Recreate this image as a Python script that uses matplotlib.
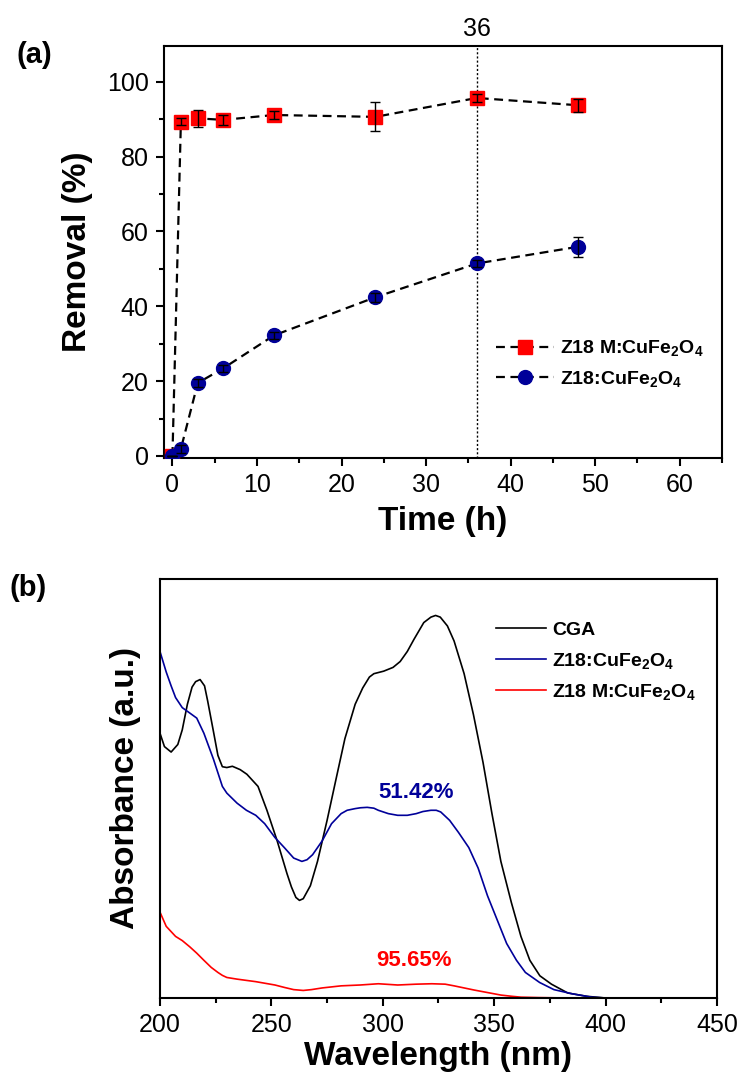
import matplotlib.pyplot as plt
from matplotlib.ticker import MultipleLocator
import matplotlib.transforms as mtransforms
import numpy as np

plt.rcParams['font.family'] = ['Liberation Sans', 'DejaVu Sans']
plt.rcParams['mathtext.default'] = 'regular'

# (a) removal vs time
time_h = [0, 1, 3, 6, 12, 24, 36, 48]
removal_m = [0.0, 89.3, 90.2, 89.8, 91.1, 90.6, 95.65, 93.7]
err_m = [0.0, 1.0, 2.2, 1.3, 1.0, 3.9, 1.0, 1.8]
removal_z = [0.0, 1.9, 19.5, 23.4, 32.2, 42.4, 51.42, 55.9]
err_z = [0.0, 1.0, 1.0, 1.0, 1.0, 1.2, 1.0, 2.7]

# (b) UV-vis spectra
wl_cga = [200, 202, 205, 208, 210, 212.3, 214.4, 216, 218, 220, 221.4, 224, 226, 228, 230,
          232.5, 236, 239, 244, 248, 252.6, 257, 259, 261, 262.6, 264.3, 267.5, 270.7, 275,
          279, 283, 287.6, 291, 294, 296, 300.4, 304.6, 307.8, 311, 314, 318.4, 321.6,
          323.7, 325.8, 329, 332, 336.5, 340.7, 345, 349, 353, 357.7, 362, 366, 370.5,
          375.7, 383, 391.6, 400]
abs_cga = [0.632, 0.600, 0.587, 0.605, 0.640, 0.701, 0.742, 0.755, 0.760, 0.745, 0.709,
           0.636, 0.579, 0.552, 0.550, 0.553, 0.545, 0.534, 0.505, 0.448, 0.375, 0.297,
           0.265, 0.240, 0.233, 0.237, 0.268, 0.326, 0.424, 0.522, 0.619, 0.701, 0.740,
           0.766, 0.774, 0.780, 0.789, 0.803, 0.827, 0.856, 0.896, 0.909, 0.913, 0.909,
           0.888, 0.852, 0.774, 0.676, 0.562, 0.440, 0.326, 0.228, 0.147, 0.090, 0.053,
           0.033, 0.012, 0.004, 0.0]
wl_z = [200, 202.8, 205, 207, 210, 213.4, 216.5, 219.7, 224, 228, 230, 234.6, 238.8, 243,
        247, 251.6, 255.8, 260, 263.7, 266, 268.5, 272.8, 277, 281.3, 284, 287.6, 290, 293,
        296, 298, 302.5, 306.7, 311, 315, 318, 321.6, 324, 326, 330, 334, 338.6, 342.8,
        347, 351.3, 355.6, 360, 364, 370.4, 376.8, 385, 393.7, 400]
abs_z = [0.827, 0.778, 0.745, 0.717, 0.693, 0.680, 0.668, 0.632, 0.570, 0.505, 0.489, 0.465,
         0.448, 0.436, 0.416, 0.383, 0.359, 0.334, 0.326, 0.330, 0.342, 0.375, 0.416, 0.440,
         0.448, 0.452, 0.454, 0.455, 0.453, 0.448, 0.440, 0.436, 0.436, 0.440, 0.445,
         0.448, 0.448, 0.444, 0.424, 0.395, 0.359, 0.310, 0.244, 0.187, 0.130, 0.090,
         0.061, 0.037, 0.020, 0.010, 0.002, 0.0]
wl_m = [200, 202.8, 207, 210, 213.4, 216.5, 219.7, 223, 226, 228, 230, 234.6, 243, 251.6,
        256, 260, 264.3, 268, 272.8, 281.3, 289.8, 298, 306.7, 315, 322, 328, 332, 336.5,
        341, 345, 349, 353, 358, 362, 370, 383, 400]
abs_m = [0.205, 0.171, 0.147, 0.137, 0.122, 0.107, 0.090, 0.073, 0.061, 0.054, 0.049, 0.045,
         0.039, 0.031, 0.025, 0.020, 0.018, 0.020, 0.024, 0.029, 0.031, 0.034, 0.031, 0.033,
         0.034, 0.033, 0.029, 0.024, 0.019, 0.015, 0.011, 0.007, 0.004, 0.002, 0.001, 0.0, 0.0]

navy = '#000099'
red = '#ff0000'
lab_font = dict(fontsize=24, fontweight='bold')


def style_axes(ax):
    for s in ax.spines.values():
        s.set_linewidth(1.5)
    ax.tick_params(which='major', direction='out', length=6, width=1.5, labelsize=18, pad=5)
    ax.tick_params(which='minor', direction='out', length=3.5, width=1.5)
    ax.tick_params(top=False, right=False)


fig = plt.figure(figsize=(7.42, 10.73), dpi=100)

# ---- panel (a)
ax1 = fig.add_axes([0.221, 0.573, 0.752, 0.384])
style_axes(ax1)
ax1.errorbar(time_h, removal_m, yerr=err_m, fmt='none', ecolor='k', elinewidth=1,
             capsize=3.5, capthick=1, zorder=5)
ax1.errorbar(time_h, removal_z, yerr=err_z, fmt='none', ecolor='k', elinewidth=1,
             capsize=3.5, capthick=1, zorder=5)
ax1.plot(time_h, removal_m, ls='--', dashes=(4, 2.5), lw=1.6, color='k', marker='s', ms=10,
         mfc=red, mec=red, label='Z18 M:CuFe$_2$O$_4$', zorder=3)
ax1.plot(time_h, removal_z, ls='--', dashes=(4, 2.5), lw=1.6, color='k', marker='o', ms=10,
         mfc=navy, mec=navy, label='Z18:CuFe$_2$O$_4$', zorder=4)
ax1.axvline(36, ls=(0, (1.5, 1.5)), lw=1, color='k', zorder=1)
ax1.set_xlim(-1, 65)
ax1.set_ylim(-0.6, 109.5)
ax1.xaxis.set_major_locator(MultipleLocator(10))
ax1.xaxis.set_minor_locator(MultipleLocator(5))
ax1.yaxis.set_major_locator(MultipleLocator(20))
ax1.yaxis.set_minor_locator(MultipleLocator(10))
ax1.set_xlabel('Time (h)', labelpad=6, **lab_font)
ax1.set_ylabel('Removal (%)', labelpad=10, **lab_font)
trans = mtransforms.blended_transform_factory(ax1.transData, ax1.transAxes)
ax1.text(36, 1.012, '36', transform=trans, ha='center', va='bottom', fontsize=18)
ax1.legend(loc='center left', bbox_to_anchor=(0.655, 0.661), bbox_transform=fig.transFigure,
           frameon=False, prop=dict(size=14, weight='bold'), handlelength=3.0,
           handletextpad=0.3, labelspacing=0.55, borderpad=0)
fig.text(0.046, 0.949, '(a)', fontsize=21, fontweight='bold', ha='center', va='center')

# ---- panel (b)
ax2 = fig.add_axes([0.2156, 0.0699, 0.7507, 0.3905])
style_axes(ax2)
ax2.plot(wl_cga, abs_cga, color='k', lw=1.2, label='CGA')
ax2.plot(wl_z, abs_z, color=navy, lw=1.2, label='Z18:CuFe$_2$O$_4$')
ax2.plot(wl_m, abs_m, color=red, lw=1.2, label='Z18 M:CuFe$_2$O$_4$')
ax2.set_xlim(200, 450)
ax2.set_ylim(0, 1)
ax2.set_yticks([])
ax2.xaxis.set_major_locator(MultipleLocator(50))
ax2.xaxis.set_minor_locator(MultipleLocator(25))
ax2.set_xlabel('Wavelength (nm)', labelpad=3, **lab_font)
ax2.set_ylabel('Absorbance (a.u.)', labelpad=14, **lab_font)
ax2.text(315, 0.49, '51.42%', color=navy, fontsize=16, fontweight='bold', ha='center', va='center')
ax2.text(314, 0.09, '95.65%', color=red, fontsize=16, fontweight='bold', ha='center', va='center')
ax2.legend(loc='upper left', bbox_to_anchor=(0.655, 0.430), bbox_transform=fig.transFigure,
           frameon=False, prop=dict(size=14, weight='bold'), handlelength=2.6,
           handletextpad=0.3, labelspacing=0.6, borderpad=0)
fig.text(0.038, 0.452, '(b)', fontsize=21, fontweight='bold', ha='center', va='center')

fig.savefig('out.png', dpi=100)
